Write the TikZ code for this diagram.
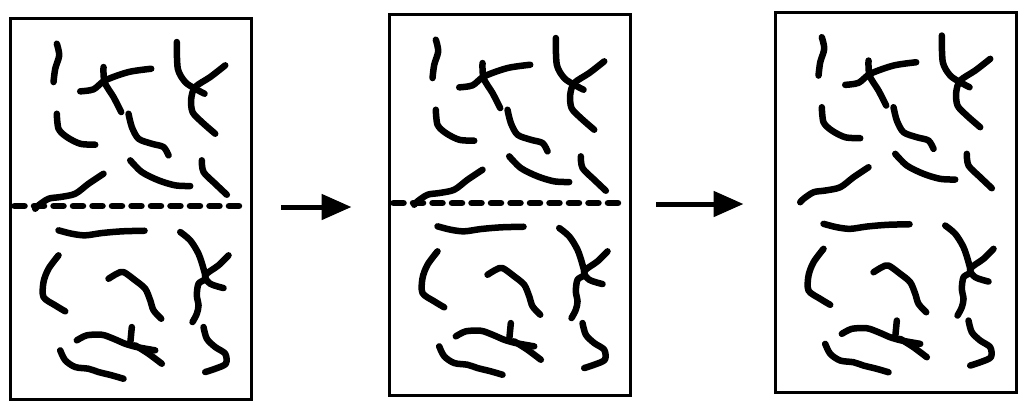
\documentclass[tikz,border=0pt]{standalone}
\usepackage{tikz}
\usetikzlibrary{arrows.meta}
\tikzset{
	panel/.style={draw, line width=0.06cm, minimum width=4.84cm, minimum height=7.62cm, inner sep=0pt},
	fibre/.style={line width=0.13cm, line cap=round, line join=round},
	cut/.style={line width=0.13cm, line cap=round, dash pattern=on 0.2cm off 0.19cm},
	flow/.style={line width=0.1cm, -{Triangle[length=0.6cm,width=0.5cm]}}
}
\newcommand{\fibres}{
			\draw[fibre] plot[smooth] coordinates {(48.3,26.7) (50.7,38.3) (46.7,51.7) (45,65)};
			\draw[fibre] plot[smooth] coordinates {(71.7,74.3) (85,72.3) (96.7,63.3) (120,55) (142.7,51.7)};
			\draw[fibre] plot[smooth] coordinates {(95,50) (96,65) (105,80) (112.7,95)};
			\draw[fibre] plot[smooth] coordinates {(168.3,25) (169.3,51.7) (176.7,65) (186.7,71.7) (196,76.7)};
			\draw[fibre] plot[smooth] coordinates {(216.7,48.3) (201.7,60) (186.7,70) (182.7,81.7) (184,95) (193.3,105) (206.7,116.7)};
			\draw[fibre] plot[smooth] coordinates {(48.3,96.7) (50,111.7) (58.3,120) (71.7,126.7) (86.7,127.7)};
			\draw[fibre] plot[smooth] coordinates {(120,96.7) (123.3,110) (130,121.7) (143.3,126.7) (155,130) (160,138.3)};
			\draw[fibre] plot[smooth] coordinates {(121.7,143.3) (133.3,155) (150,163.3) (166.7,168.3) (181.7,169)};
			\draw[fibre] plot[smooth] coordinates {(193.3,143.3) (195,155) (206.7,166.7) (218.3,177.7)};
			\draw[fibre] plot[smooth] coordinates {(95,156.7) (80,166.7) (66.7,176.7) (51.7,180) (40,181.7) (30,188.3) (26.7,191.7)};
			\draw[fibre] plot[smooth] coordinates {(50,213.3) (63.3,216.7) (76.7,218.3) (93.3,216) (113.3,214.3) (136,213.7)};
			\draw[fibre] plot[smooth] coordinates {(171.7,215) (181.7,223.3) (190,236.7) (195,251.7) (196.7,261.7) (190,266.7) (188.3,278.3) (190,288.3) (188.3,296.7) (184,305)};
			\draw[fibre] plot[smooth] coordinates {(220,238.3) (210,248.3) (196.7,258.3) (201.7,266.7) (215,271)};
			\draw[fibre] plot[smooth] coordinates {(50,238.3) (40,251.7) (35,265) (35,280) (46.7,288.3) (56.7,294.3)};
			\draw[fibre] plot[smooth] coordinates {(100,261.7) (108.3,256.7) (115,255) (126.7,263.3) (136.7,271.7) (141.7,283.3) (145,293.3) (152.7,301.7)};
			\draw[fibre] plot[smooth] coordinates {(68.3,323.3) (78.3,318.3) (93.3,317.7) (105,321.7) (116.7,326.7) (128.3,330) (146.7,333.3)};
			\draw[fibre] (123.3,310) -- (121.7,326.7);
			\draw[fibre] plot[smooth] coordinates {(126.7,328.3) (140,336.7) (153.3,346.7)};
			\draw[fibre] plot[smooth] coordinates {(51.7,333.3) (56.7,343.3) (66.7,350) (80,351.7) (90,355) (103.3,358.3) (115,361.7)};
			\draw[fibre] plot[smooth] coordinates {(195,310) (198.3,321.7) (206.7,330) (216.7,336.7) (217.3,346.7) (206.7,351.7) (196.7,355)};
}

\begin{document}
\begin{tikzpicture}[x=0.02cm, y=-0.02cm]
			\useasboundingbox (0,0) rectangle (1021,413);
			\node[panel] (box1) at (131,209) {};
			\node[panel] (box2) at (510,205) {};
			\node[panel] (box3) at (896,202.5) {};
			\begin{scope}[shift={(box1.north west)}]
				\fibres
				\draw[cut] (6,189) -- (236,189);
			\end{scope}
			\begin{scope}[shift={(box2.north west)}]
				\fibres
				\draw[cut] (6,190) -- (236,190);
			\end{scope}
			\begin{scope}[shift={(box3.north west)}]
				\fibres
			\end{scope}
			\draw[flow, shorten <=0.56cm, shorten >=0.72cm] (box1.east |- 0,207) -- (box2.west |- 0,207);
			\draw[flow, shorten <=0.48cm, shorten >=0.6cm] (box2.east |- 0,204) -- (box3.west |- 0,204);
\end{tikzpicture}
\end{document}
